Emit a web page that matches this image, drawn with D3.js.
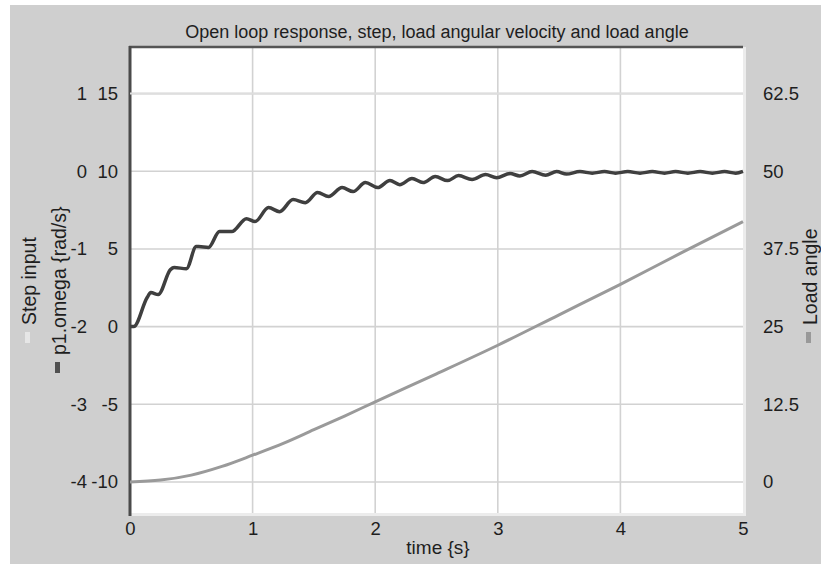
<!DOCTYPE html>
<html>
<head>
<meta charset="utf-8">
<script src="https://cdnjs.cloudflare.com/ajax/libs/d3/7.8.5/d3.min.js"></script>
<style>
  body { margin: 0; background: #fff; }
  svg { display: block; font-family: "Liberation Sans", Arial, sans-serif; }
</style>
</head>
<body>
<svg id="chart" width="821" height="564"></svg>
<script>
// values
const omegaT = [0,0.03,0.14,0.17,0.23,0.33,0.36,0.46,0.54,0.56,0.64,0.73,0.83,0.95,1.02,1.13,1.22,1.33,1.43,1.53,1.62,1.73,1.82,1.92,2.02,2.12,2.2,2.3,2.39,2.49,2.59,2.68,2.79,2.9,2.99,3.1,3.18,3.28,3.39,3.48,3.56,3.67,3.77,3.87,3.96,4.06,4.16,4.26,4.36,4.45,4.55,4.65,4.75,4.85,4.94,5];
const omegaV = [0,0,1.87,2.19,2.06,3.67,3.8,3.73,5.15,5.15,5.09,6.12,6.12,6.95,6.76,7.66,7.4,8.18,7.98,8.63,8.37,8.95,8.69,9.27,8.95,9.4,9.14,9.53,9.27,9.66,9.4,9.72,9.47,9.79,9.59,9.85,9.7,9.98,9.75,9.98,9.82,9.98,9.88,9.98,9.88,9.98,9.88,9.98,9.88,9.98,9.88,9.98,9.88,9.98,9.88,10];

const angleT = [0,0.25,0.5,0.75,1,1.25,1.5,1.75,2,2.5,3,3.5,4,4.5,5];
const angleV = [0,0.3,1.1,2.5,4.3,6.2,8.4,10.6,12.9,17.4,22,26.9,31.8,36.9,41.9];

const stepT = [0,5];
const stepV = [1,1];

const timeTicks = [0,1,2,3,4,5];
const omegaTicks = [-10,-5,0,5,10,15];
const stepTicks = [-4,-3,-2,-1,0,1];
const angleTicks = [0,12.5,25,37.5,50,62.5];

const svg = d3.select("#chart");

// grey panel
svg.append("rect").attr("x", 10).attr("y", 5).attr("width", 811).attr("height", 559).style("fill", "#cfcfcf");

const L = 130, R = 743, T = 47, B = 513;
const x = d3.scaleLinear().domain([0,5]).range([L,R]);
const yOmega = d3.scaleLinear().domain([-12,18]).range([B,T]);
const yStep = d3.scaleLinear().domain([-4.4,1.6]).range([B,T]);
const yAngle = d3.scaleLinear().domain([-5,70]).range([B,T]);

// plot area
svg.append("rect").attr("x", L).attr("y", T).attr("width", R-L).attr("height", B-T).style("fill", "#fff");

// grid
svg.append("g").selectAll("line").data(timeTicks.slice(1,5)).enter().append("line")
  .attr("x1", d => x(d)).attr("x2", d => x(d)).attr("y1", T).attr("y2", B)
  .style("stroke", "#d2d2d2").style("stroke-width", 1.6);
svg.append("g").selectAll("line").data(omegaTicks).enter().append("line")
  .attr("x1", L).attr("x2", R).attr("y1", d => yOmega(d)).attr("y2", d => yOmega(d))
  .style("stroke", "#d2d2d2").style("stroke-width", 1.6);

// frame: dark top/left, light bottom/right
svg.append("line").attr("x1", R+1.5).attr("x2", R+1.5).attr("y1", T).attr("y2", B+3).style("stroke", "#ececec").style("stroke-width", 3);
svg.append("line").attr("x1", L).attr("x2", R+3).attr("y1", B+1.5).attr("y2", B+1.5).style("stroke", "#ececec").style("stroke-width", 3);
svg.append("line").attr("x1", L-1).attr("x2", R).attr("y1", T).attr("y2", T).style("stroke", "#555").style("stroke-width", 2.5);
svg.append("line").attr("x1", L).attr("x2", L).attr("y1", T-1).attr("y2", B+3).style("stroke", "#4a4a4a").style("stroke-width", 3);

// lines
const stepLine = d3.line().x((d,i) => x(stepT[i])).y(d => yStep(d));
svg.append("path").datum(stepV).attr("d", stepLine)
  .style("fill", "none").style("stroke", "#dedede").style("stroke-width", 2);

const angleLine = d3.line().curve(d3.curveMonotoneX).x((d,i) => x(angleT[i])).y(d => yAngle(d));
svg.append("path").datum(angleV).attr("d", angleLine)
  .style("fill", "none").style("stroke", "#9a9a9a").style("stroke-width", 3);

const omegaLine = d3.line().curve(d3.curveMonotoneX).x((d,i) => x(omegaT[i])).y(d => yOmega(d));
svg.append("path").datum(omegaV).attr("d", omegaLine)
  .style("fill", "none").style("stroke", "#3f3f3f").style("stroke-width", 3.5)
  .style("stroke-linejoin", "round");

// axes
const plain = d => String(d);
function styleAxis(g) {
  g.select(".domain").remove();
  g.selectAll("text").style("font-size", "18.5px").style("fill", "#1e1e1e")
   .style("font-family", "'Liberation Sans', Arial, sans-serif");
}
svg.append("g").attr("transform", `translate(${L},0)`)
  .call(d3.axisLeft(yOmega).tickValues(omegaTicks).tickSize(0).tickPadding(12).tickFormat(plain))
  .call(styleAxis);
svg.append("g").attr("transform", "translate(87,0)")
  .call(d3.axisLeft(yStep).tickValues(stepTicks).tickSize(0).tickPadding(0).tickFormat(plain))
  .call(styleAxis);
svg.append("g").attr("transform", `translate(${R},0)`)
  .call(d3.axisRight(yAngle).tickValues(angleTicks).tickSize(0).tickPadding(20).tickFormat(plain))
  .call(styleAxis);
svg.append("g").attr("transform", `translate(0,${B})`)
  .call(d3.axisBottom(x).tickValues(timeTicks).tickSize(0).tickPadding(9).tickFormat(plain))
  .call(styleAxis);

// titles
svg.append("text").attr("x", 437).attr("y", 38).attr("text-anchor", "middle")
  .style("font-size", "18px").style("fill", "#1e1e1e")
  .text("Open loop response, step, load angular velocity and load angle");
svg.append("text").attr("x", 438).attr("y", 554).attr("text-anchor", "middle")
  .style("font-size", "19px").style("fill", "#1e1e1e").text("time {s}");

function sideLabel(bx, bottom, label, swatch) {
  svg.append("text").attr("transform", `translate(${bx},${bottom}) rotate(-90)`)
    .attr("text-anchor", "start").style("font-size", "19.5px").style("fill", "#1e1e1e").text(label);
  svg.append("rect").attr("x", bx-11).attr("y", bottom+7).attr("width", 5).attr("height", 11).style("fill", swatch);
}
sideLabel(36, 325, "Step input", "#e6e6e6");
sideLabel(66, 355, "p1.omega {rad/s}", "#505050");
sideLabel(817, 325, "Load angle", "#999");
</script>
</body>
</html>
